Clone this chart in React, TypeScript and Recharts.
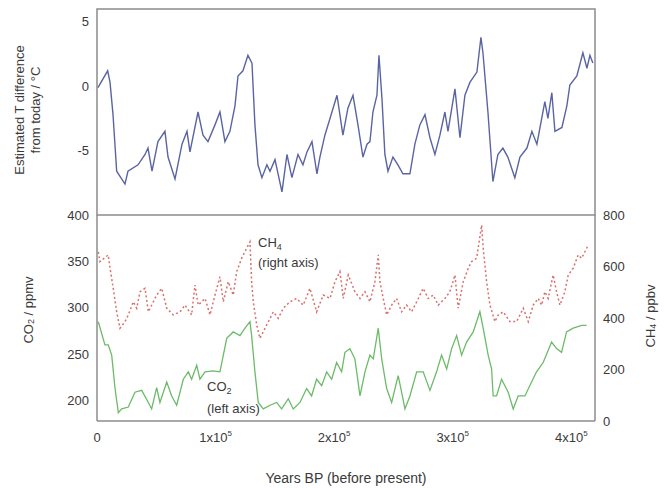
import { LineChart, ComposedChart, Line, XAxis, YAxis, ReferenceArea } from 'recharts';

// ages in thousands of years before present
const xTicks = [0, 100, 200, 300, 400];
const tempTicks = [-5, 0, 5];
const co2Ticks = [200, 250, 300, 350, 400];
const ch4Ticks = [0, 200, 400, 600, 800];

// [age kyr, T difference °C]
const tempSeries = [
  [0.8, -0.1], [9.0, 1.2], [11.0, 0.3], [13.5, -2.2], [16.6, -6.6], [23.6, -7.6], [26.1, -6.6], [34.6, -6.1],
  [40.5, -5.3], [43.0, -4.8], [46.4, -6.6], [51.4, -4.3], [57.3, -3.5], [59.9, -5.5], [65.8, -7.2], [71.7, -4.5],
  [75.9, -3.5], [78.4, -5.1], [85.2, -2.0], [89.4, -3.8], [93.6, -4.3], [99.5, -3.0], [103.7, -2.0], [107.9, -4.3],
  [112.1, -3.5], [116.4, -1.5], [118.9, 0.8], [123.1, 1.2], [127.3, 2.4], [130.7, 1.8], [133.2, -3.0], [135.8, -6.1],
  [139.1, -7.1], [143.3, -6.1], [145.9, -6.6], [150.1, -5.7], [156.0, -8.2], [160.2, -5.3], [164.4, -7.1], [169.5, -5.3],
  [173.7, -6.1], [177.1, -5.1], [181.3, -4.3], [185.5, -6.8], [188.0, -5.5], [192.2, -3.8], [196.5, -2.5], [202.4, -0.7],
  [207.4, -3.8], [211.6, -1.7], [215.9, -0.7], [220.1, -3.0], [224.3, -5.5], [227.7, -4.5], [230.2, -4.3], [232.7, -2.0],
  [236.1, -0.7], [237.8, 2.4], [240.3, -0.9], [242.8, -5.3], [245.4, -6.6], [249.6, -5.5], [253.8, -6.1], [258.0, -6.8],
  [263.9, -6.8], [268.1, -4.5], [272.3, -3.0], [276.6, -2.2], [280.8, -4.0], [285.0, -5.3], [289.2, -3.8], [293.4, -2.0],
  [296.0, -3.5], [301.9, -0.2], [306.1, -4.0], [310.3, -0.7], [314.5, 0.3], [320.4, 1.1], [323.8, 3.8], [325.5, 2.6],
  [329.7, -2.0], [333.9, -7.4], [338.1, -5.3], [342.3, -4.8], [346.5, -5.5], [352.4, -7.1], [356.7, -5.5], [362.6, -4.8],
  [366.8, -3.5], [371.0, -4.5], [377.7, -1.2], [380.3, -2.5], [383.6, -0.5], [386.2, -3.5], [392.1, -3.2], [396.3, -1.5],
  [398.8, 0.1], [404.7, 0.8], [409.8, 2.6], [413.2, 1.4], [415.7, 2.4], [418.2, 1.8],
];

// [age kyr, CO2 ppmv]
const co2Series = [
  [1.1, 285], [6.7, 260], [9.5, 260], [12.4, 249], [15.2, 213], [18.0, 187], [20.8, 191], [26.4, 193],
  [32.0, 209], [37.7, 211], [43.3, 198], [46.1, 191], [50.3, 214], [53.1, 198], [58.8, 220], [63.0, 205],
  [67.2, 195], [72.8, 223], [77.0, 231], [79.8, 223], [84.1, 238], [86.8, 223], [91.1, 231], [97.8, 232],
  [103.7, 231], [109.4, 267], [114.9, 274], [120.6, 270], [124.8, 278], [129.0, 285], [130.4, 270], [133.2, 231],
  [136.0, 198], [140.2, 191], [145.9, 195], [151.5, 198], [155.7, 191], [161.3, 202], [165.5, 191], [171.2, 198],
  [176.8, 213], [181.0, 205], [185.2, 223], [189.5, 216], [193.7, 231], [197.9, 223], [202.1, 241], [206.3, 231],
  [209.1, 252], [213.3, 256], [217.5, 245], [221.8, 205], [226.0, 231], [230.2, 249], [233.0, 245], [237.2, 278],
  [240.1, 245], [244.3, 213], [248.5, 198], [254.0, 227], [256.9, 209], [259.7, 191], [263.9, 205], [269.6, 231],
  [275.1, 231], [280.8, 211], [286.4, 231], [290.6, 249], [294.9, 234], [299.1, 256], [303.3, 270], [307.5, 249],
  [311.7, 263], [317.3, 274], [322.9, 296], [325.7, 278], [329.9, 249], [332.8, 234], [334.1, 205], [337.0, 205],
  [341.2, 223], [346.8, 209], [351.0, 191], [355.2, 205], [360.9, 205], [366.5, 220], [370.7, 231], [376.3, 241],
  [383.4, 263], [387.6, 256], [391.8, 252], [396.0, 274], [401.6, 278], [408.7, 281], [412.9, 281],
];

// [age kyr, CH4 ppbv]
const ch4Series = [
  [1.1, 657], [2.5, 619], [9.5, 645], [11.0, 593], [13.7, 515], [16.6, 424], [19.4, 360], [23.6, 386],
  [26.4, 412], [30.6, 463], [33.5, 438], [36.3, 502], [40.5, 515], [43.3, 424], [50.3, 489], [54.6, 515],
  [58.8, 438], [64.3, 412], [70.0, 424], [74.2, 450], [79.8, 412], [82.6, 528], [85.4, 450], [91.1, 476],
  [95.3, 412], [99.5, 489], [103.7, 560], [106.5, 463], [110.7, 541], [114.9, 489], [117.8, 580], [122.0, 632],
  [126.2, 671], [129.0, 696], [130.4, 541], [131.8, 463], [134.7, 373], [137.4, 321], [143.1, 373], [148.7, 424],
  [152.9, 399], [157.1, 438], [162.7, 463], [168.4, 476], [173.9, 450], [179.6, 515], [185.2, 424], [190.8, 489],
  [196.5, 476], [200.7, 541], [204.9, 580], [207.7, 476], [211.9, 567], [217.5, 502], [221.8, 476], [226.0, 502],
  [230.2, 463], [234.4, 541], [237.2, 645], [238.6, 541], [241.4, 476], [244.3, 412], [248.5, 450], [252.7, 476],
  [256.9, 424], [261.1, 450], [265.3, 424], [269.6, 463], [275.1, 515], [279.3, 476], [283.6, 489], [287.8, 450],
  [293.4, 476], [297.6, 502], [301.9, 567], [304.6, 438], [308.9, 541], [313.1, 593], [315.9, 619], [320.2, 632],
  [324.4, 761], [325.7, 671], [328.6, 541], [331.4, 450], [335.6, 386], [338.4, 412], [342.6, 424], [348.2, 386],
  [353.9, 386], [359.5, 438], [363.7, 386], [367.9, 450], [372.1, 476], [375.0, 450], [377.7, 502], [380.5, 476],
  [384.7, 567], [387.6, 502], [390.4, 450], [394.6, 502], [397.4, 567], [401.6, 593], [405.8, 645], [408.7, 632],
  [414.3, 683],
];

const tempData = tempSeries.map(([age, v]) => ({ age, v }));
const co2Data = co2Series.map(([age, v]) => ({ age, v }));
const ch4Data = ch4Series.map(([age, v]) => ({ age, v }));

const axisColor = '#8c8c8c';
const textColor = '#3a3a3a';
const tickStyle = { fill: textColor, fontSize: 13 };

const XTick = (props: any) => {
  const { x, y, payload } = props;
  const v = payload.value;
  if (v === 0) {
    return (
      <text x={x} y={y + 13} textAnchor="middle" fill={textColor} fontSize={13}>0</text>
    );
  }
  return (
    <text x={x} y={y + 13} textAnchor="middle" fill={textColor} fontSize={13}>
      <tspan>{`${v / 100}x10`}</tspan>
      <tspan dy={-6} fontSize={8}>5</tspan>
    </text>
  );
};

export default function App() {
  return (
    <div style={{ position: 'absolute', left: 0, top: 0, width: 665, height: 488, background: '#fff', fontFamily: '"Liberation Sans", Arial, sans-serif' }}>
      <div style={{ position: 'absolute', left: 0, top: 0 }}>
        <LineChart width={665} height={230} data={tempData} margin={{ top: 9, right: 70, left: 0, bottom: 15 }}>
          <XAxis dataKey="age" type="number" domain={[0, 420]} hide />
          <YAxis
            type="number"
            domain={[-10, 6]}
            ticks={tempTicks}
            width={97}
            tick={tickStyle}
            axisLine={false}
            tickLine={false}
          />
          <ReferenceArea x1={0} x2={420} y1={-10} y2={6} fill="none" stroke={axisColor} strokeWidth={1.5} />
          <Line
            dataKey="v"
            stroke="#5b64a3"
            strokeWidth={1.4}
            dot={false}
            isAnimationActive={false}
          />
        </LineChart>
      </div>
      <div style={{ position: 'absolute', left: 0, top: 200 }}>
        <ComposedChart width={665} height={288} margin={{ top: 15, right: 0, left: 0, bottom: 0 }}>
          <XAxis
            dataKey="age"
            type="number"
            domain={[0, 420]}
            ticks={xTicks}
            height={67}
            tick={<XTick />}
            axisLine={{ stroke: axisColor, strokeWidth: 1.5 }}
            tickLine={false}
          />
          <YAxis
            yAxisId="co2"
            type="number"
            domain={[178, 400]}
            ticks={co2Ticks}
            width={97}
            tick={tickStyle}
            axisLine={{ stroke: axisColor, strokeWidth: 1.5 }}
            tickLine={false}
          />
          <YAxis
            yAxisId="ch4"
            orientation="right"
            type="number"
            domain={[0, 800]}
            ticks={ch4Ticks}
            width={70}
            tick={tickStyle}
            axisLine={{ stroke: axisColor, strokeWidth: 1.5 }}
            tickLine={false}
          />
          <Line
            yAxisId="ch4"
            data={ch4Data}
            dataKey="v"
            stroke="#d8706c"
            strokeWidth={1.5}
            strokeDasharray="2 2.5"
            dot={false}
            isAnimationActive={false}
          />
          <Line
            yAxisId="co2"
            data={co2Data}
            dataKey="v"
            stroke="#6cbb68"
            strokeWidth={1.3}
            dot={false}
            isAnimationActive={false}
          />
        </ComposedChart>
      </div>
      <svg width={665} height={488} style={{ position: 'absolute', left: 0, top: 0, pointerEvents: 'none' }}>
        <g fill={textColor} fontSize={13}>
          <text x={19} y={110} transform="rotate(-90 19 110)" textAnchor="middle" dominantBaseline="central">
            Estimated T difference
          </text>
          <text x={35} y={110} transform="rotate(-90 35 110)" textAnchor="middle" dominantBaseline="central">
            from today / °C
          </text>
          <text x={28} y={310} transform="rotate(-90 28 310)" textAnchor="middle" dominantBaseline="central">
            CO<tspan dy={3} fontSize={9}>2</tspan><tspan dy={-3}> / ppmv</tspan>
          </text>
          <text x={650} y={316} transform="rotate(-90 650 316)" textAnchor="middle" dominantBaseline="central">
            CH<tspan dy={3} fontSize={9}>4</tspan><tspan dy={-3}> / ppbv</tspan>
          </text>
          <text x={258} y={247}>
            CH<tspan dy={3} fontSize={9}>4</tspan>
          </text>
          <text x={258} y={267}>(right axis)</text>
          <text x={207} y={391}>
            CO<tspan dy={3} fontSize={9}>2</tspan>
          </text>
          <text x={207} y={413}>(left axis)</text>
          <text x={346} y={483} textAnchor="middle" fontSize={14}>Years BP (before present)</text>
        </g>
      </svg>
    </div>
  );
}
